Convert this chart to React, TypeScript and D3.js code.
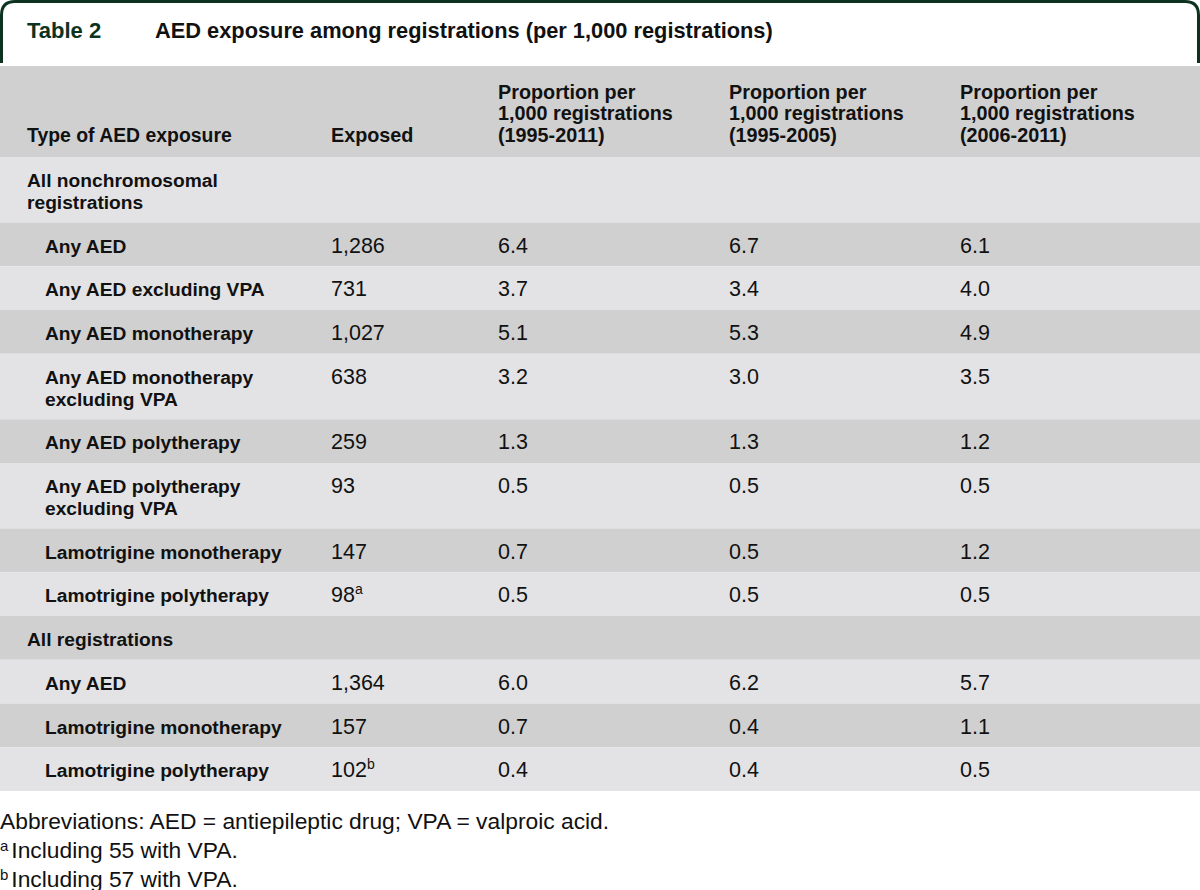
import React from "react";
import * as d3 from "d3";

const tableNumber = "Table 2";
const tableTitle = "AED exposure among registrations (per 1,000 registrations)";

const headerLabels: string[][] = [
  ["Type of AED exposure"],
  ["Exposed"],
  ["Proportion per", "1,000 registrations", "(1995-2011)"],
  ["Proportion per", "1,000 registrations", "(1995-2005)"],
  ["Proportion per", "1,000 registrations", "(2006-2011)"],
];

// kind: "section" rows are group headings, "data" rows carry values
const rowKinds = ["section", "data", "data", "data", "data", "data", "data", "data", "data", "section", "data", "data", "data"];
const rowLabels: string[][] = [
  ["All nonchromosomal", "registrations"],
  ["Any AED"],
  ["Any AED excluding VPA"],
  ["Any AED monotherapy"],
  ["Any AED monotherapy", "excluding VPA"],
  ["Any AED polytherapy"],
  ["Any AED polytherapy", "excluding VPA"],
  ["Lamotrigine monotherapy"],
  ["Lamotrigine polytherapy"],
  ["All registrations"],
  ["Any AED"],
  ["Lamotrigine monotherapy"],
  ["Lamotrigine polytherapy"],
];
const exposed = ["", "1,286", "731", "1,027", "638", "259", "93", "147", "98", "", "1,364", "157", "102"];
const exposedNote = ["", "", "", "", "", "", "", "", "a", "", "", "", "b"];
const prop1995to2011 = ["", "6.4", "3.7", "5.1", "3.2", "1.3", "0.5", "0.7", "0.5", "", "6.0", "0.7", "0.4"];
const prop1995to2005 = ["", "6.7", "3.4", "5.3", "3.0", "1.3", "0.5", "0.5", "0.5", "", "6.2", "0.4", "0.4"];
const prop2006to2011 = ["", "6.1", "4.0", "4.9", "3.5", "1.2", "0.5", "1.2", "0.5", "", "5.7", "1.1", "0.5"];

const abbreviations = "Abbreviations: AED = antiepileptic drug; VPA = valproic acid.";
const footnoteMarks = ["a", "b"];
const footnoteTexts = ["Including 55 with VPA.", "Including 57 with VPA."];

const W = 1200;
const H = 890;
const FONT = "'Liberation Sans', Arial, sans-serif";
const DARK = "#cfd0cf";
const LIGHT = "#e3e3e5";
const GREEN = "#0d3320";
const INK = "#111";

const colX = [27, 331, 498, 729, 960];
const LINE = 21.75;

export default function App() {
  const headerTop = 66;
  const headerH = 91;
  const bodyTop = headerTop + headerH;

  // row heights from number of lines
  const heights = rowLabels.map((l) => 22 + l.length * LINE);
  const cum = d3.cumsum(heights);
  const tops = heights.map((h, i) => bodyTop + (cum[i] - h));
  const bodyBottom = bodyTop + (cum[cum.length - 1] || 0);

  const valueCols = [prop1995to2011, prop1995to2005, prop2006to2011];

  return (
    <div style={{ position: "absolute", left: 0, top: 0 }}>
      <svg width={W} height={H} style={{ display: "block", background: "#fff" }} fontFamily={FONT}>
        {/* title frame */}
        <path
          d={`M1.5,63 L1.5,15 Q1.5,1.5 15,1.5 L1185,1.5 Q1198.5,1.5 1198.5,15 L1198.5,63`}
          fill="none"
          stroke={GREEN}
          strokeWidth={3}
        />
        <text x={27} y={38} fontSize={22} fontWeight="bold" fill={GREEN}>{tableNumber}</text>
        <text x={155} y={38} fontSize={21.8} fontWeight="bold" fill={INK}>{tableTitle}</text>

        {/* header */}
        <rect x={0} y={headerTop} width={W} height={headerH} fill={DARK} />
        {headerLabels.map((lines, c) =>
          lines.map((t, k) => (
            <text
              key={`h${c}-${k}`}
              x={colX[c]}
              y={headerTop + headerH - 15 - (lines.length - 1 - k) * LINE}
              fontSize={c === 0 ? 19.4 : 19.8}
              fontWeight="bold"
              fill={INK}
            >
              {t}
            </text>
          ))
        )}

        {/* rows */}
        {rowLabels.map((lines, i) => {
          const top = tops[i];
          const fill = i % 2 === 0 ? LIGHT : DARK;
          const base = top + 30;
          const isSection = rowKinds[i] === "section";
          return (
            <g key={`r${i}`}>
              <rect x={0} y={top} width={W} height={heights[i]} fill={fill} />
              {lines.map((t, k) => (
                <text
                  key={k}
                  x={isSection ? colX[0] : colX[0] + 18}
                  y={base + k * LINE}
                  fontSize={19.2}
                  fontWeight="bold"
                  fill={INK}
                >
                  {t}
                </text>
              ))}
              {exposed[i] && (
                <text x={colX[1]} y={base} fontSize={21.5} fill={INK}>
                  {exposed[i]}
                  {exposedNote[i] && (
                    <tspan fontSize={14} dy={-8}>{exposedNote[i]}</tspan>
                  )}
                </text>
              )}
              {valueCols.map((col, c) =>
                col[i] ? (
                  <text key={c} x={colX[c + 2]} y={base} fontSize={21.5} fill={INK}>
                    {col[i]}
                  </text>
                ) : null
              )}
            </g>
          );
        })}

        {/* footnotes */}
        <text x={0} y={bodyBottom + 38} fontSize={22.8} fill={INK}>{abbreviations}</text>
        {footnoteTexts.map((t, k) => (
          <text key={`f${k}`} x={0} y={bodyBottom + 67 + k * 28.5} fontSize={22.8} fill={INK}>
            <tspan fontSize={15} dy={-7}>{footnoteMarks[k]}</tspan>
            <tspan dx={3} dy={7}>{t}</tspan>
          </text>
        ))}
      </svg>
    </div>
  );
}
